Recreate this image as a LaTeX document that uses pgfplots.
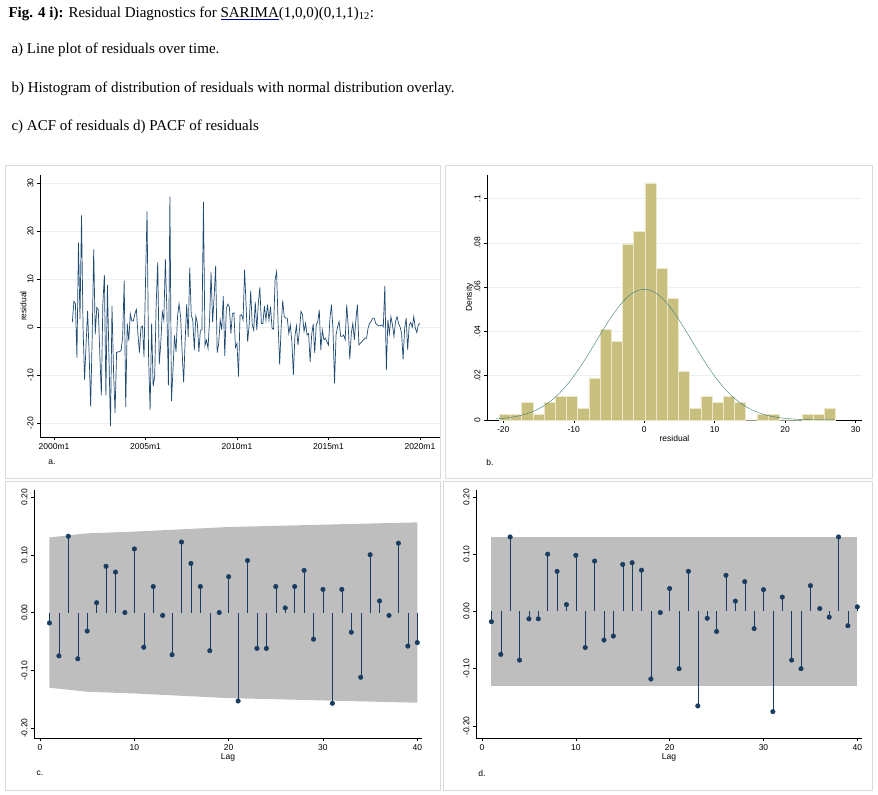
\documentclass[border=0pt]{standalone}
\usepackage{pgfplots}
\pgfplotsset{compat=1.18}
\usepackage{fontspec}
\setmainfont{Liberation Serif}
\setsansfont{Liberation Sans}
\definecolor{lineblue}{HTML}{1F4A72}
\definecolor{histfill}{HTML}{C9C080}
\definecolor{histedge}{HTML}{ECE8CC}
\definecolor{normc}{HTML}{3A7A78}
\definecolor{navy}{HTML}{1A3C60}
\definecolor{frame}{HTML}{DADADA}
\definecolor{gridc}{HTML}{EAF1F1}
\definecolor{band}{HTML}{BEBEBE}
\pgfplotsset{
  st/.style={scale only axis, axis x line*=bottom, axis y line*=left,
    tick align=outside, tick style={black, thin}, major tick length=3pt,
    axis line style={black, thin},
    ticklabel style={font=\fontsize{8.5}{9}\sffamily},
    label style={font=\fontsize{8.5}{9}\sffamily},
    y tick label style={rotate=90},
    /pgf/number format/assume math mode=true, clip=false},
}
\begin{document}
\begin{tikzpicture}
\useasboundingbox (0pt,0pt) rectangle (878pt,795pt);
\node[anchor=west,font=\fontsize{15}{16}\selectfont] at (5pt,781pt) {\textbf{Fig. 4 i):} Residual Diagnostics for {\color{blue!60!black}\underline{\color{black}SARIMA}}(1,0,0)(0,1,1)\textsubscript{12}:};
\node[anchor=west,font=\fontsize{15}{16}\selectfont] at (8pt,745pt) {a) Line plot of residuals over time.};
\node[anchor=west,font=\fontsize{15}{16}\selectfont] at (8pt,706pt) {b) Histogram of distribution of residuals with normal distribution overlay.};
\node[anchor=west,font=\fontsize{15}{16}\selectfont] at (8pt,668pt) {c) ACF of residuals d) PACF of residuals};
\draw[frame] (5pt,317pt) rectangle (440pt,630pt);
\draw[frame] (445pt,317pt) rectangle (872pt,630pt);
\draw[frame] (5pt,5pt) rectangle (440pt,314pt);
\draw[frame] (443pt,5pt) rectangle (872pt,314pt);
\node[font=\fontsize{8.5}{9}\sffamily] at (52pt,333pt) {a.};
\node[font=\fontsize{8.5}{9}\sffamily] at (490pt,333pt) {b.};
\node[font=\fontsize{8.5}{9}\sffamily] at (40pt,22pt) {c.};
\node[font=\fontsize{8.5}{9}\sffamily] at (482pt,22pt) {d.};

\begin{axis}[st, at={(40pt,358pt)}, anchor=south west, width=400pt, height=262pt,
  xmin=1999.23, xmax=2021.1, ymin=-22.85, ymax=31.7,
  xtick={2000,2005,2010,2015,2020}, xticklabels={2000m1,2005m1,2010m1,2015m1,2020m1},
  ytick={-20,-10,0,10,20,30}, ymajorgrids, grid style={gridc},
  ylabel={residual}, ylabel style={yshift=-6pt}]
\addplot[lineblue, line width=0.7pt] table[row sep=\\, x expr=2001+\coordindex/12, y index=0] {
y\\1.1\\5.4\\4.9\\-6.3\\17.6\\1.7\\23.3\\0\\-10.9\\-3.4\\3.4\\-5.5\\-16.5\\-2\\16.2\\-1.5\\4.1\\3.7\\-5.5\\-14.2\\4.9\\10.9\\-14.2\\8.8\\-6.2\\-20.6\\4.4\\-9\\-17.8\\-5.3\\-5.1\\-5.1\\-4.8\\-2\\9.7\\-16.6\\0.8\\-2.8\\2.8\\1.3\\1.3\\2.8\\3.7\\-1.3\\-5.3\\0\\0.2\\-6.2\\9.8\\24.1\\-6.2\\-17.2\\0.8\\-12.3\\-10.3\\4.9\\13.5\\-7.7\\-3.4\\3.2\\1.5\\14.2\\3.5\\-12.1\\27.2\\-15.4\\-9\\-1.7\\-5.1\\2.2\\4.9\\2.2\\-5.1\\-11.5\\-2.7\\4.8\\-2\\12.4\\2.5\\1.5\\-4.8\\2.3\\0.8\\-5.1\\-0.6\\-0.6\\26.1\\-3.8\\-2.7\\-4.4\\1.5\\11.4\\1.1\\6.3\\12.8\\-5.3\\-3.4\\1.5\\-0.6\\6.5\\-6\\3.9\\4.8\\4.2\\-1.3\\2.8\\3\\-4.2\\-3.4\\-10.3\\2.5\\
2.6\\1.5\\12\\4.3\\-3\\0.5\\7.6\\0.5\\-0.6\\5.3\\-0.6\\5\\8.3\\0.8\\0.8\\4.4\\1.5\\4.7\\1.5\\4.3\\-0.2\\-0.4\\9.9\\11.6\\0.5\\-7.8\\0.1\\5.6\\2.2\\1.9\\1.9\\-1.3\\0.5\\-3\\-9.9\\-1.9\\0.3\\-3.7\\-0.6\\3.3\\2.6\\-0.9\\0.8\\-1.6\\-1.3\\-7.2\\-1.6\\0.7\\-5.4\\0.5\\1.2\\3.6\\-4.7\\-0.6\\-2.6\\-2.3\\-3\\-3.7\\1.9\\4.7\\-0.6\\-11.7\\-1.6\\0.1\\1.2\\-1.9\\-1.9\\-1.6\\-2.6\\4.7\\0.1\\-6.7\\-1.3\\0.8\\-2.6\\1.5\\4.7\\-3.7\\-3.3\\-3\\-2.6\\-2.3\\-2.3\\-0.2\\0.8\\1.2\\1.9\\1.9\\0.8\\0.5\\0.3\\0.3\\0.5\\0.1\\8.6\\-8.9\\1.5\\-1.3\\2.2\\0.5\\-1.9\\1.2\\2.2\\0.8\\0.1\\-1.3\\-6.7\\-0.2\\1.9\\-4.7\\0.5\\1\\0\\2.2\\-0.2\\-1.1\\0.5\\0.8\\
};
\end{axis}

\begin{axis}[st, at={(487pt,375pt)}, anchor=south west, width=375pt, height=245pt,
  xmin=-22.3, xmax=30.9, ymin=0, ymax=0.1106,
  xtick={-20,-10,0,10,20,30}, ytick={0,0.02,0.04,0.06,0.08,0.1},
  yticklabels={0,.02,.04,.06,.08,.1}, ymajorgrids, grid style={gridc},
  xlabel={residual}, ylabel={Density}, xlabel style={yshift=4pt}, ylabel style={yshift=-6pt}]
\addplot[ybar interval, fill=histfill, draw=histedge, line width=0.6pt] coordinates {
(-20.57,.0026)(-18.98,.0026)(-17.39,.0081)(-15.80,.0026)(-14.21,.0081)(-12.62,.0107)
(-11.03,.0107)(-9.44,.0053)(-7.85,.019)(-6.26,.041)(-4.67,.0355)(-3.08,.0795)
(-1.49,.085)(0.10,.107)(1.69,.0685)(3.28,.0548)(4.87,.0218)(6.46,.0053)
(8.05,.0107)(9.64,.0081)(11.23,.0107)(12.82,.0081)(14.41,0)(16.00,.0026)
(17.59,.0026)(19.18,0)(20.77,0)(22.36,.0026)(23.95,.0026)(25.54,.0053)(27.13,0)};
\addplot[normc, thin, domain=-21:27, samples=120, smooth] {0.059*exp(-(x^2)/(2*6.76^2))};
\end{axis}

\begin{axis}[st, at={(34pt,57pt)}, anchor=south west, width=388pt, height=248pt,
  xmin=-0.64, xmax=40.5, ymin=-0.217, ymax=0.212,
  xtick={0,10,20,30,40}, ytick={-0.2,-0.1,0,0.1,0.2},
  yticklabels={-0.20,-0.10,0.00,0.10,0.20},
  xlabel={Lag}, xlabel style={yshift=4pt}]
\addplot[fill=band, draw=none] coordinates {(1,0.13)(5,0.137)(10,0.14)(15,0.144)(20,0.148)(25,0.15)(30,0.152)(35,0.154)(40,0.156)
(40,-0.156)(35,-0.154)(30,-0.152)(25,-0.15)(20,-0.148)(15,-0.144)(10,-0.14)(5,-0.137)(1,-0.13)} -- cycle;
\addplot[ycomb, navy, thin, mark=*, mark size=2.3pt] coordinates {
(1,-0.018)(2,-0.075)(3,0.132)(4,-0.08)(5,-0.032)(6,0.017)(7,0.08)(8,0.07)(9,0.0)(10,0.11)
(11,-0.06)(12,0.045)(13,-0.005)(14,-0.073)(15,0.122)(16,0.085)(17,0.045)(18,-0.066)(19,0.0)(20,0.062)
(21,-0.153)(22,0.09)(23,-0.062)(24,-0.062)(25,0.045)(26,0.008)(27,0.045)(28,0.073)(29,-0.046)(30,0.04)
(31,-0.157)(32,0.04)(33,-0.034)(34,-0.112)(35,0.1)(36,0.02)(37,-0.005)(38,0.12)(39,-0.058)(40,-0.052)};
\end{axis}

\begin{axis}[st, at={(476pt,57pt)}, anchor=south west, width=386pt, height=248pt,
  xmin=-0.64, xmax=40.5, ymin=-0.221, ymax=0.212,
  xtick={0,10,20,30,40}, ytick={-0.2,-0.1,0,0.1,0.2},
  yticklabels={-0.20,-0.10,0.00,0.10,0.20},
  xlabel={Lag}, xlabel style={yshift=4pt}]
\addplot[fill=band, draw=none] coordinates {(1,0.13)(40,0.13)(40,-0.13)(1,-0.13)} -- cycle;
\addplot[ycomb, navy, thin, mark=*, mark size=2.3pt] coordinates {
(1,-0.018)(2,-0.075)(3,0.13)(4,-0.085)(5,-0.013)(6,-0.013)(7,0.1)(8,0.07)(9,0.012)(10,0.098)
(11,-0.063)(12,0.088)(13,-0.05)(14,-0.043)(15,0.082)(16,0.085)(17,0.072)(18,-0.118)(19,-0.002)(20,0.04)
(21,-0.1)(22,0.07)(23,-0.165)(24,-0.012)(25,-0.035)(26,0.063)(27,0.018)(28,0.052)(29,-0.03)(30,0.038)
(31,-0.175)(32,0.025)(33,-0.085)(34,-0.1)(35,0.045)(36,0.005)(37,-0.01)(38,0.13)(39,-0.025)(40,0.008)};
\end{axis}
\end{tikzpicture}
\end{document}
